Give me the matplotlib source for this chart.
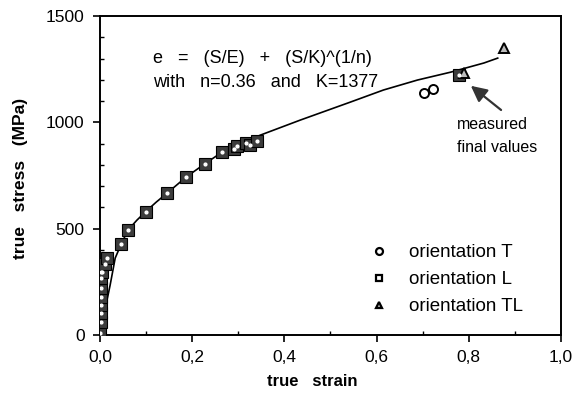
import matplotlib
matplotlib.use("Agg")
import matplotlib.pyplot as plt
from matplotlib.lines import Line2D

plt.rcParams['font.family'] = ['Liberation Sans', 'DejaVu Sans']

# fitted curve e = S/E + (S/K)^(1/n)
curve_strain = [0.0, 0.006, 0.013, 0.022, 0.033, 0.046, 0.061, 0.080, 0.100, 0.122,
                0.146, 0.187, 0.228, 0.265, 0.300, 0.348, 0.435, 0.543, 0.615, 0.689,
                0.761, 0.833, 0.863]
curve_stress = [0, 70, 141, 235, 362, 428, 494, 540, 582, 625,
                668, 743, 806, 860, 893, 940, 1011, 1095, 1152, 1199,
                1236, 1279, 1302]

# orientation L (squares)
strain_L = [0.0, 0.002, 0.002, 0.002, 0.002, 0.002, 0.002, 0.002, 0.004, 0.011,
            0.015, 0.046, 0.061, 0.100, 0.146, 0.187, 0.228, 0.265, 0.290, 0.298,
            0.317, 0.325, 0.341, 0.778]
stress_L = [9, 61, 103, 141, 179, 221, 268, 296, 296, 334,
            362, 428, 494, 578, 668, 743, 804, 860, 875, 889,
            903, 895, 912, 1222]

# orientation T (circles)
strain_T = [0.702, 0.722]
stress_T = [1138, 1156]

# orientation TL (triangles)
strain_TL = [0.789, 0.876]
stress_TL = [1232, 1349]

labels = ["orientation T", "orientation L", "orientation TL"]

fig = plt.figure(figsize=(5.77, 3.97), dpi=100)
ax = fig.add_axes([0.1733, 0.156, 0.7987, 0.8037])

ax.plot(curve_strain, curve_stress, color='black', lw=1.2, zorder=2)

ax.plot(strain_L, stress_L, ls='none', marker='s', ms=8, mfc='#3c3c3c', mec='black',
        mew=0.8, zorder=3)
ax.plot(strain_L, stress_L, ls='none', marker='o', ms=2, mfc='white', mec='white',
        zorder=4)
ax.plot(strain_T, stress_T, ls='none', marker='o', ms=6.5, mfc='none', mec='black',
        mew=1.4, zorder=3)
ax.plot(strain_TL, stress_TL, ls='none', marker='^', ms=6.5, mfc='#bbbbbb', mec='black',
        mew=1.4, zorder=3)

ax.set_xlim(0, 1.0)
ax.set_ylim(0, 1500)
ax.set_xticks([0, 0.2, 0.4, 0.6, 0.8, 1.0])
ax.set_xticklabels(["0,0", "0,2", "0,4", "0,6", "0,8", "1,0"])
ax.set_xticks([0.1, 0.3, 0.5, 0.7, 0.9], minor=True)
ax.set_yticks([0, 500, 1000, 1500])
ax.set_yticks([100, 200, 300, 400, 600, 700, 800, 900, 1100, 1200, 1300, 1400], minor=True)
ax.tick_params(which='major', direction='out', length=5, width=1.2, labelsize=12.5, pad=6)
ax.tick_params(which='minor', direction='in', length=3, width=1.0)
for s in ax.spines.values():
    s.set_linewidth(1.4)

ax.set_xlabel("true   strain", fontsize=12, fontweight='bold', va='center')
ax.xaxis.set_label_coords(0.461, -0.146)
ax.set_ylabel("true   stress   (MPa)", fontsize=12.5, fontweight='bold', va='center')
ax.yaxis.set_label_coords(-0.173, 0.492)

ax.text(0.115, 1302, "e   =   (S/E)   +   (S/K)^(1/n)", fontsize=13, va='center', ha='left')
ax.text(0.115, 1189, "with   n=0.36   and   K=1377", fontsize=13, va='center', ha='left')

ax.annotate("", xy=(0.80, 1180), xytext=(0.875, 1050),
            arrowprops=dict(arrowstyle='-|>', color='#333333', lw=1.6,
                            mutation_scale=24))
ax.text(0.774, 992, "measured", fontsize=11.5, ha='left', va='center')
ax.text(0.774, 880, "final values", fontsize=11.5, ha='left', va='center')

handles = [
    Line2D([], [], ls='none', marker='o', ms=5, mfc='none', mec='black', mew=1.6),
    Line2D([], [], ls='none', marker='s', ms=5, mfc='none', mec='black', mew=1.6),
    Line2D([], [], ls='none', marker='^', ms=5, mfc='#bbbbbb', mec='black', mew=1.6),
]
ax.legend(handles, labels, frameon=False, loc='upper left', bbox_to_anchor=(0.5685, 0.308),
          fontsize=13.5, handlelength=1.0, handletextpad=1.1, labelspacing=0.52,
          borderaxespad=0)

fig.savefig("out.png", dpi=100)
